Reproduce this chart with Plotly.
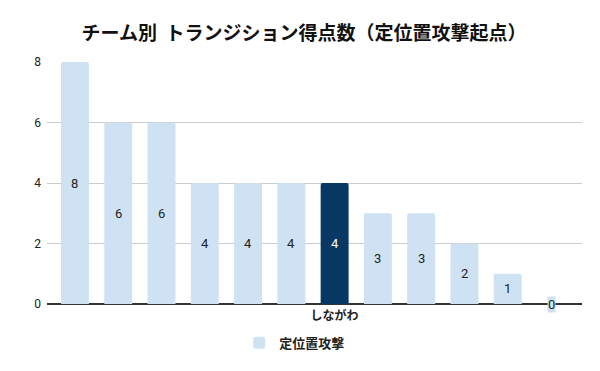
import plotly.graph_objects as go

teams = ["", "", "", "", "", "", "しながわ", "", "", "", "", ""]
values = [8, 6, 6, 4, 4, 4, 4, 3, 3, 2, 1, 0]
highlight = "しながわ"
series_name = "定位置攻撃"
title = "チーム別  トランジション得点数（定位置攻撃起点）"
yticks = [0, 2, 4, 6, 8]

LIGHT = "#cfe2f3"
DARK = "#073763"

xs = list(range(len(values)))
colors = [DARK if t == highlight else LIGHT for t in teams]
ticktext = ["<b>" + t + "</b>" if t else "" for t in teams]

fig = go.Figure()
fig.add_trace(go.Bar(
    x=xs, y=values, name="<b>" + series_name + "</b>",
    marker=dict(color=colors, line=dict(width=0), cornerradius=2),
    width=0.646, showlegend=True,
))

annotations = []
for i, (t, v) in enumerate(zip(teams, values)):
    annotations.append(dict(
        x=i, y=v / 2, xref="x", yref="y", text=str(v), showarrow=False,
        font=dict(family="Roboto", size=13, color="white" if t == highlight else "#222222"),
        bgcolor=LIGHT if v == 0 else None, borderpad=0,
    ))

# body has an 8px margin in the page, so the figure is 592x363 and offset by 8px
fig.update_layout(
    width=592, height=363,
    margin=dict(l=39, r=18, t=54, b=67),
    paper_bgcolor="white", plot_bgcolor="white",
    title=dict(text="<b>" + title + "</b>", x=0.5, xanchor="center", y=0.931, yanchor="middle",
               font=dict(family="Noto Sans CJK JP", size=19, color="#111111")),
    xaxis=dict(range=[-0.646, 11.716], tickvals=xs, ticktext=ticktext, showgrid=False,
               showline=False, zeroline=False, ticks="", ticklabelstandoff=3,
               tickfont=dict(family="Noto Sans CJK JP", size=12, color="#222222")),
    yaxis=dict(range=[0, 8], tickvals=yticks, showgrid=True, gridcolor="#cccccc", gridwidth=1,
               zeroline=True, zerolinecolor="#333333", zerolinewidth=1.5,
               tickfont=dict(family="Roboto", size=12, color="#222222"), ticks="",
               ticklabelstandoff=5),
    legend=dict(orientation="h", x=0.463, xanchor="center", y=-0.16, yanchor="middle",
                font=dict(family="Noto Sans CJK JP", size=13, color="#222222"),
                itemwidth=30),
    annotations=annotations,
    bargap=0.35,
)

fig.write_html("out.html")
